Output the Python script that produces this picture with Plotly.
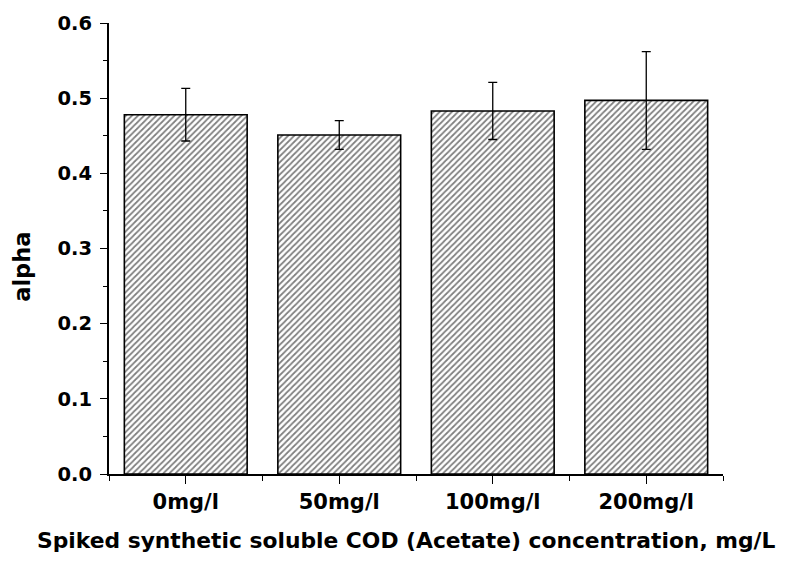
import plotly.graph_objects as go

# Spiked acetate COD levels and measured alpha (mean ± error)
categories = ["0mg/l", "50mg/l", "100mg/l", "200mg/l"]
alpha_mean = [0.478, 0.451, 0.483, 0.497]
alpha_err = [0.035, 0.019, 0.038, 0.065]

y_ticks = [0.0, 0.1, 0.2, 0.3, 0.4, 0.5, 0.6]

FONT = "DejaVu Sans, Liberation Sans, sans-serif"
positions = list(range(len(categories)))

fig = go.Figure()
fig.add_trace(go.Bar(
    x=positions,
    y=alpha_mean,
    width=0.8,
    marker=dict(
        color="white",
        line=dict(color="black", width=1.6),
        pattern=dict(shape="/", fgcolor="black", bgcolor="white",
                     size=4.3, solidity=0.4),
    ),
    error_y=dict(type="data", array=alpha_err, visible=True,
                 color="black", thickness=1.3, width=4.5),
    showlegend=False,
))

fig.update_layout(
    width=801, height=561,
    margin=dict(l=109, r=78, t=21, b=87),
    plot_bgcolor="white", paper_bgcolor="white",
    font=dict(family=FONT, color="black"),
    xaxis=dict(
        range=[-0.5, 3.5],
        tickmode="array", tickvals=positions,
        ticktext=[f"<b>{c}</b>" for c in categories],
        ticks="outside", ticklen=8, tickwidth=1.3, tickcolor="black",
        tickfont=dict(family=FONT, size=21, color="black"),
        showline=True, linecolor="black", linewidth=2,
        showgrid=False, zeroline=False,
        minor=dict(tickmode="array", tickvals=[-0.5, 0.5, 1.5, 2.5, 3.5],
                   ticks="outside", ticklen=5, tickwidth=1.3, tickcolor="black"),
    ),
    yaxis=dict(
        range=[0, 0.6],
        tickmode="array", tickvals=y_ticks,
        ticktext=[f"<b>{v:.1f}</b>" for v in y_ticks],
        ticks="outside", ticklen=7, tickwidth=1.3, tickcolor="black",
        ticklabelstandoff=4,
        tickfont=dict(family=FONT, size=19.5, color="black"),
        showline=True, linecolor="black", linewidth=2,
        showgrid=False, zeroline=False,
        minor=dict(dtick=0.05, ticks="outside", ticklen=4, tickwidth=1.3,
                   tickcolor="black"),
    ),
    annotations=[
        dict(text="<b>Spiked synthetic soluble COD (Acetate) concentration, mg/L</b>",
             xref="paper", yref="paper", x=0.4845, y=-0.148,
             xanchor="center", yanchor="middle", showarrow=False,
             font=dict(family=FONT, size=21.8, color="black")),
        dict(text="<b>alpha</b>", textangle=-90,
             xref="paper", yref="paper", x=-0.142, y=0.459,
             xanchor="center", yanchor="middle", showarrow=False,
             font=dict(family=FONT, size=22.5, color="black")),
    ],
)

fig.write_html("out.html")
